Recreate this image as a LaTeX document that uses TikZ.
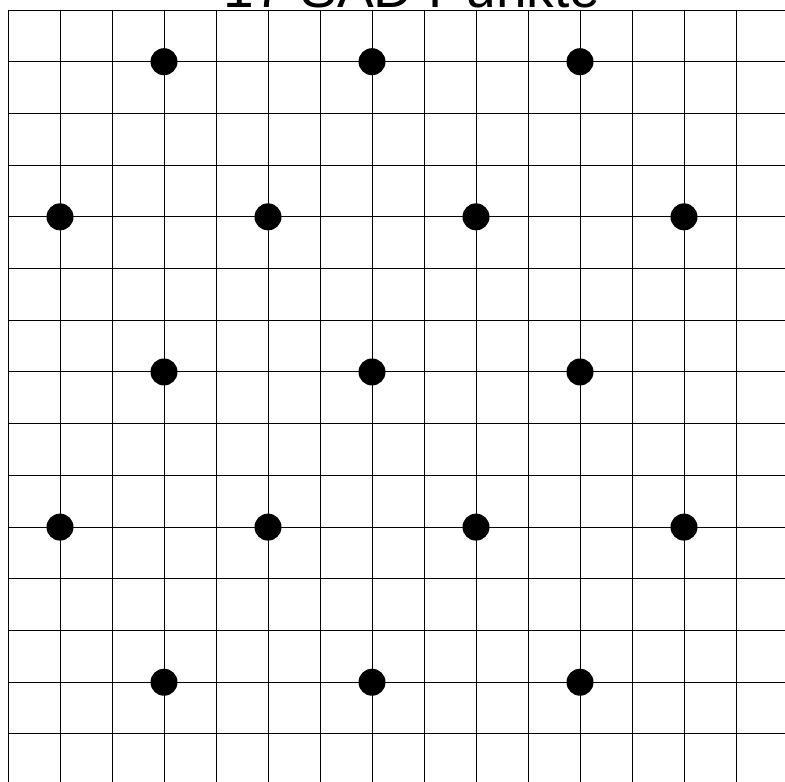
\documentclass[tikz,border=0pt]{standalone}
\usepackage{fontspec}
\setmainfont{Liberation Sans}
\begin{document}
\begin{tikzpicture}[x=1pt,y=-1pt,
  gridline/.style={line width=1pt,black},
  dot/.style={circle,fill=black,inner sep=0pt,minimum size=27pt},
  titletext/.style={anchor=base,inner sep=0pt,font=\fontsize{55}{60}\selectfont}]
\useasboundingbox (0,0) rectangle (785,782);
\clip (0,0) rectangle (785,782);
\fill[white] (0,0) rectangle (785,782);
\node[titletext] (title) at (412,7.5) {17 SAD Punkte};
\foreach \k in {0,...,14} {
  \draw[gridline] ({8+52*\k},10) -- ({8+52*\k},790);
  \draw[gridline] (8,{10+51.71*\k}) -- (790,{10+51.71*\k});
}
\foreach \r in {1,7,13} {
  \foreach \c in {3,7,11} {
    \node[dot] (d-\r-\c) at ({8+52*\c},{10+51.71*\r}) {};
  }
}
\foreach \r in {4,10} {
  \foreach \c in {1,5,9,13} {
    \node[dot] (d-\r-\c) at ({8+52*\c},{10+51.71*\r}) {};
  }
}
\end{tikzpicture}
\end{document}
